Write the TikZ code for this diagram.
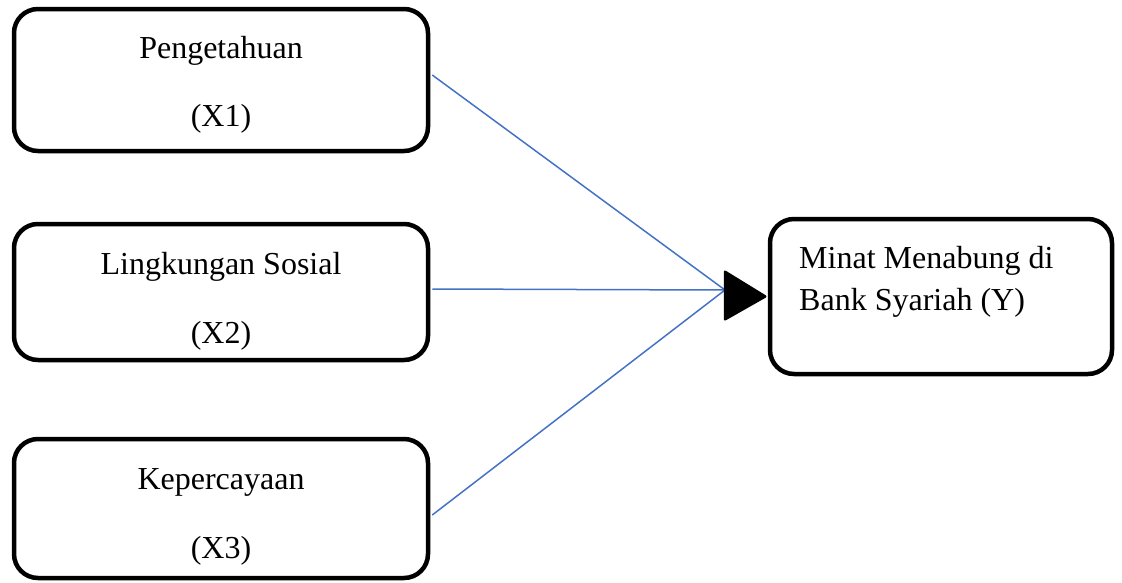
\documentclass[tikz,border=0pt]{standalone}
\usepackage{fontspec}
\setmainfont{Liberation Serif}
\definecolor{linkblue}{HTML}{4472C4}
\begin{document}
\begin{tikzpicture}[x=1pt,y=-1pt,
  box/.style={draw=black, line width=4.5pt, rounded corners=24pt, inner sep=0pt},
  lbl/.style={anchor=base, inner sep=0pt, font=\fontsize{32}{38}\selectfont},
  link/.style={draw=linkblue, line width=1.5pt}]
\useasboundingbox (0,0) rectangle (1122,582);
% boxes
\node[box, minimum width=414pt, minimum height=142pt] (x1) at (221,80) {};
\node[box, minimum width=414pt, minimum height=136pt] (x2) at (221,292) {};
\node[box, minimum width=414pt, minimum height=139pt] (x3) at (221,508.5) {};
\node[box, minimum width=342pt, minimum height=155pt] (y) at (941,296.5) {};
% labels
\node[lbl] (x1a) at (221,58) {Pengetahuan};
\node[lbl] (x1b) at (221,126) {(X1)};
\node[lbl] (x2a) at (221,274) {Lingkungan Sosial};
\node[lbl] (x2b) at (221,343) {(X2)};
\node[lbl] (x3a) at (221,489) {Kepercayaan};
\node[lbl] (x3b) at (221,558) {(X3)};
\node[lbl, anchor=base west] (ya) at (799,268) {Minat Menabung di};
\node[lbl, anchor=base west] (yb) at (799,310) {Bank Syariah (Y)};
% convergence point
\coordinate (conv) at (725,290);
\draw[link] ([xshift=2pt,yshift=5pt]x1.east) -- (conv);
\draw[link] ([xshift=2pt,yshift=3pt]x2.east) -- (conv);
\draw[link] ([xshift=2pt,yshift=-6.5pt]x3.east) -- (conv);
% arrowhead
\fill[black, rounded corners=2.5pt] (y.west) -- ([xshift=-44pt,yshift=27pt]y.west) -- ([xshift=-44pt,yshift=-25pt]y.west) -- cycle;
\end{tikzpicture}
\end{document}
